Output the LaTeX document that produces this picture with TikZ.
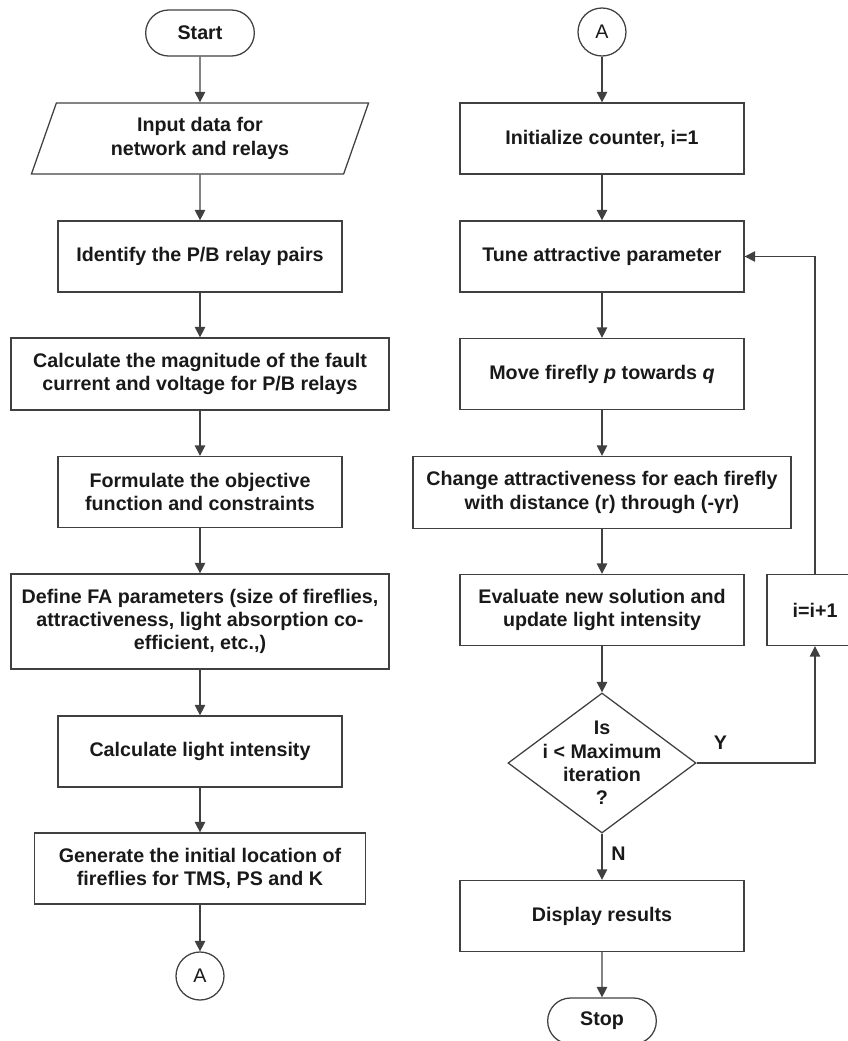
\documentclass[tikz,border=0pt]{standalone}
\usepackage{fontspec}
\setmainfont{Liberation Sans}
\usetikzlibrary{arrows.meta,shapes.geometric,shapes.misc}
\tikzset{
>={Triangle[length=0.26cm,width=0.26cm]}, % filled arrow heads
every node/.style={font=\bfseries\fontsize{14}{16.6}\selectfont, text=black!90},
box/.style={draw, rectangle, align=center, minimum width=7.1cm, minimum height=1.775cm},
widebox/.style={box, minimum width=9.45cm, minimum height=1.8cm},
term/.style={draw, rounded rectangle, minimum width=2.95cm, minimum height=1.15cm},
conn/.style={draw, circle, minimum size=1.2cm, inner sep=0pt, font=\mdseries\fontsize{14}{16.6}\selectfont},
io/.style={draw, trapezium, trapezium left angle=64, trapezium right angle=116, trapezium stretches body, align=center, minimum width=8.425cm, minimum height=1.775cm},
decision/.style={draw, diamond, minimum width=4.7cm, minimum height=3.5cm, inner sep=0pt},
}
\begin{document}
\begin{tikzpicture}[x=0.025cm, y=-0.025cm, line width=0.9pt, color=black!75]
        \clip (0,0) rectangle (848,1041);
        % left column
        \node[term] at (200,33) (start) {Start};
        \node[io] at (200,138.5) (input) {Input data for\\network and relays};
        \node[box] at (200,256.5) (ident) {Identify the P/B relay pairs};
        \node[widebox] at (200,374) (calc) {Calculate the magnitude of the fault\\current and voltage for P/B relays};
        \node[box] at (200,492) (form) {Formulate the objective\\function and constraints};
        \node[widebox, minimum height=2.375cm] at (200,621.5) (define) {Define FA parameters (size of fireflies,\\attractiveness, light absorption co-\\efficient, etc.,)};
        \node[box] at (200,751.5) (light) {Calculate light intensity};
        \node[box, minimum width=8.275cm] at (200,868.5) (gen) {Generate the initial location of\\fireflies for TMS, PS and K};
        \node[conn] at (200,976) (outA) {A};
        % right column
        \node[conn] at (602,32) (inA) {A};
        \node[box] at (602,138.5) (init) {Initialize counter, i=1};
        \node[box] at (602,256.5) (tune) {Tune attractive parameter};
        \node[box] at (602,374) (move) {Move firefly \textit{p} towards \textit{q}};
        \node[widebox] at (602,492.5) (change) {Change attractiveness for each firefly\\with distance (r) through (-γr)};
        \node[box] at (602,610) (eval) {Evaluate new solution and\\update light intensity};
        \node[box, minimum width=2.4cm] at (815,610) (incr) {i=i+1};
        \node[decision, label={[align=center]center:{Is\\i < Maximum\\iteration\\?}}] at (602,763) (dec) {};
        \node[box] at (602,916) (disp) {Display results};
        \node[term] at (602,1021) (stop) {Stop};
        \draw[->]
        (start) edge (input) (input) edge (ident) (ident) edge (calc)
        (calc) edge (form) (form) edge (define) (define) edge (light)
        (light) edge (gen) (gen) edge (outA)
        (inA) edge (init) (init) edge (tune) (tune) edge (move)
        (move) edge (change) (change) edge (eval) (eval) edge (dec)
        (disp) edge (stop)
        ;
        \draw[->] (dec.south) -- node[pos=0.44, right=0.1cm] {N} (disp.north);
        \draw[->] (dec.east) -| node[pos=0.1, anchor=south, inner sep=0pt, yshift=0.325cm] {Y} (incr.south);
        \draw[->] (incr.north) |- (tune.east);
    \end{tikzpicture}
\end{document}
